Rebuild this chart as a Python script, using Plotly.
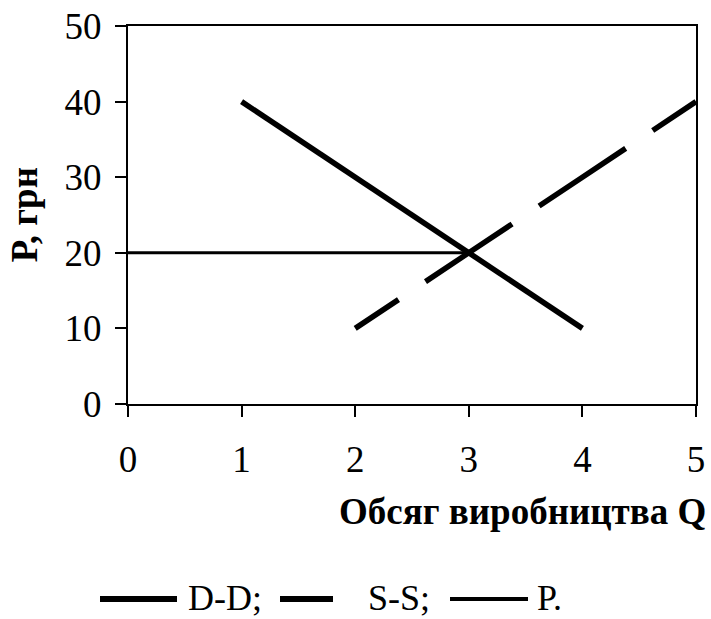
import plotly.graph_objects as go

# Data
demand_q = [1, 2, 3, 4]
demand_p = [40, 30, 20, 10]
supply_q = [2, 3, 4, 5]
supply_p = [10, 20, 30, 40]
price_q = [0, 1, 2, 3]
price_p = [20, 20, 20, 20]
x_ticks = [0, 1, 2, 3, 4, 5]
y_ticks = [0, 10, 20, 30, 40, 50]
legend_labels = ["D-D;", "S-S;", "P."]

FONT = "Liberation Serif, Times New Roman, serif"

fig = go.Figure()
fig.add_trace(go.Scatter(x=price_q, y=price_p, mode="lines",
                         line=dict(color="black", width=3), showlegend=False))
fig.add_trace(go.Scatter(x=demand_q, y=demand_p, mode="lines",
                         line=dict(color="black", width=5.5), showlegend=False))
fig.add_trace(go.Scatter(x=supply_q, y=supply_p, mode="lines",
                         line=dict(color="black", width=5.5, dash="52px,32.45px,52px,0px"),
                         showlegend=False))

axis_common = dict(showline=True, linecolor="black", linewidth=2, mirror=True,
                   ticks="outside", ticklen=11, tickwidth=2, tickcolor="black",
                   showgrid=False, zeroline=False, automargin=False,
                   tickfont=dict(family=FONT, size=37, color="black"))

fig.update_xaxes(range=[0, 5], tickvals=x_ticks, ticktext=[str(v) for v in x_ticks],
                 ticklabelstandoff=11, **axis_common)
fig.update_yaxes(range=[0, 50], tickvals=y_ticks, ticktext=[str(v) for v in y_ticks],
                 ticklabelstandoff=6, **axis_common)

fig.add_annotation(text="<b>Обсяг виробництва Q</b>", xref="paper", yref="paper",
                   x=1.021, y=-0.284, xanchor="right", yanchor="middle", showarrow=False,
                   font=dict(family=FONT, size=37, color="black"))
fig.add_annotation(text="<b>Р, грн</b>", xref="paper", yref="paper",
                   x=-0.1827, y=0.5, xanchor="center", yanchor="middle", textangle=-90,
                   showarrow=False, font=dict(family=FONT, size=37, color="black"))

# Legend drawn manually (long line samples as in the reference)
W, H = 568.0, 378.0
L, B = 128.0, 404.0
def px_x(v):
    return (v - L) / W
def px_y(v):
    return (B - v) / H

leg_line_y = 599
samples = [
    (100, 177, 6),
    (280, 333, 6),
    (450, 528, 4),
]
text_x = [186, 366, 535]
for (x0, x1, w), tx, lab in zip(samples, text_x, legend_labels):
    fig.add_shape(type="line", xref="paper", yref="paper",
                  x0=px_x(x0), x1=px_x(x1), y0=px_y(leg_line_y), y1=px_y(leg_line_y),
                  line=dict(color="black", width=w))
    fig.add_annotation(text=lab, xref="paper", yref="paper", x=px_x(tx), y=px_y(598),
                       xanchor="left", yanchor="middle", showarrow=False,
                       font=dict(family=FONT, size=36, color="black"))

fig.update_layout(width=711, height=619,
                  margin=dict(l=128, r=15, t=26, b=215, autoexpand=False),
                  plot_bgcolor="white", paper_bgcolor="white")

fig.write_html("out.html", config={"displayModeBar": False},
               post_script="document.body.style.margin='0';")
